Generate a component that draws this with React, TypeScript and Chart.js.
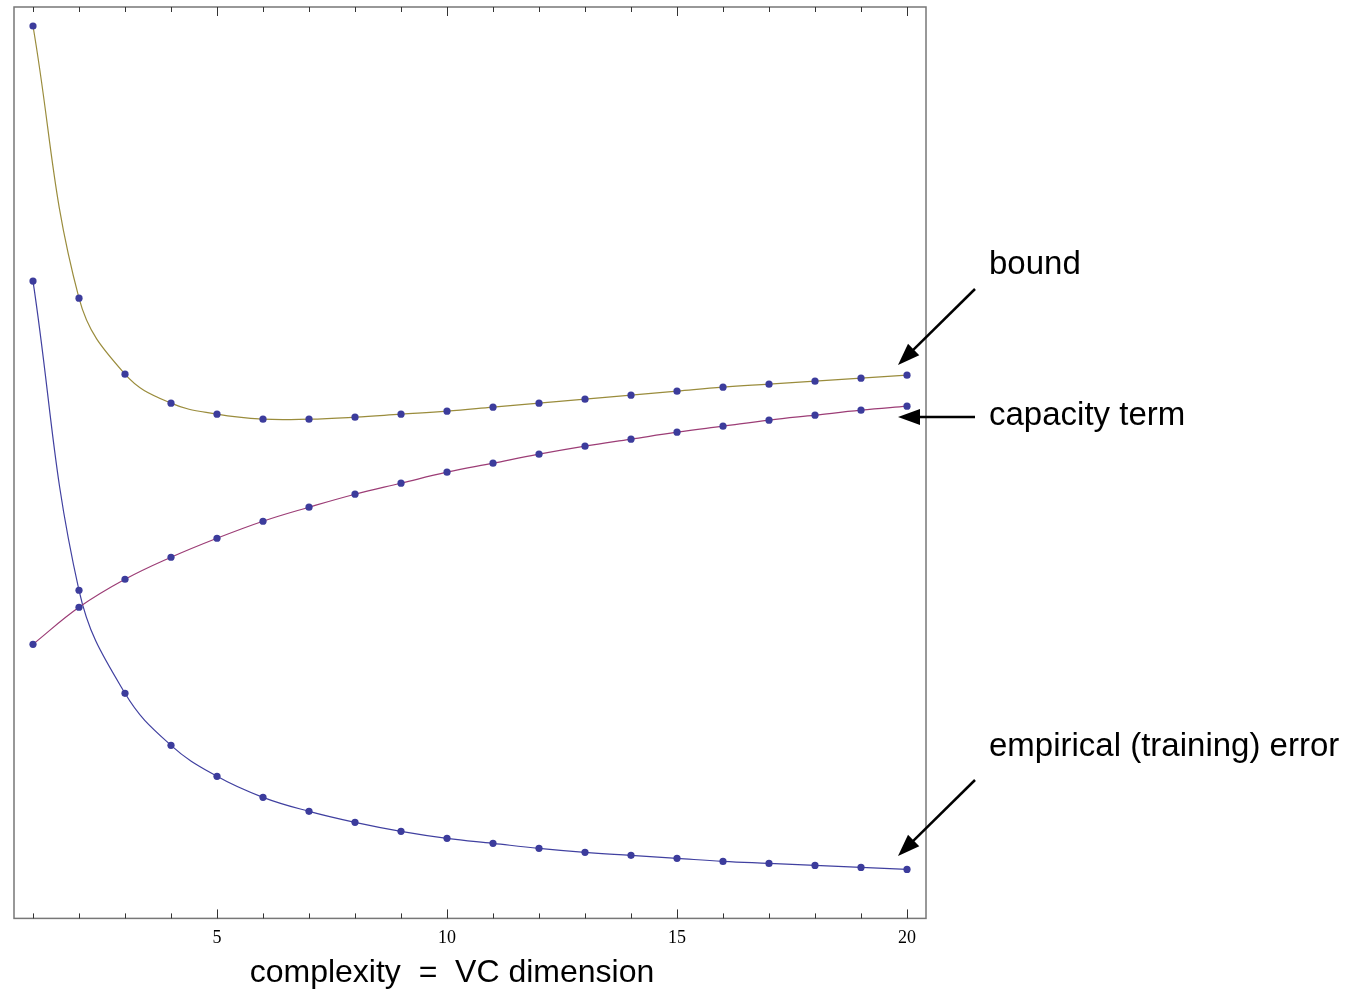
import React, { useEffect, useRef } from 'react';
import { Chart, registerables } from 'chart.js';

Chart.register(...registerables);

// ---- data ----
const complexity = [1, 2, 3, 4, 5, 6, 7, 8, 9, 10, 11, 12, 13, 14, 15, 16, 17, 18, 19, 20];
const boundValues = [0.874, 0.602, 0.526, 0.497, 0.486, 0.481, 0.481, 0.483, 0.486, 0.489, 0.493, 0.497, 0.501, 0.505, 0.509, 0.513, 0.516, 0.519, 0.522, 0.525];
const capacityValues = [0.256, 0.293, 0.321, 0.343, 0.362, 0.379, 0.393, 0.406, 0.417, 0.428, 0.437, 0.446, 0.454, 0.461, 0.468, 0.474, 0.480, 0.485, 0.490, 0.494];
const empiricalValues = [0.619, 0.310, 0.207, 0.155, 0.124, 0.103, 0.089, 0.078, 0.069, 0.062, 0.057, 0.052, 0.048, 0.045, 0.042, 0.039, 0.037, 0.035, 0.033, 0.031];
const xTickLabels = ['5', '10', '15', '20'];
const xAxisTitle = 'complexity = VC dimension';
const labelTexts = ['bound', 'capacity term', 'empirical (training) error'];

// ---- styling ----
const POINT_COLOR = '#3c3c9c';
const BOUND_COLOR = '#9a8c3c';
const CAPACITY_COLOR = '#9c3d76';
const EMPIRICAL_COLOR = '#4040a0';
const TITLE_FONT = '32px "Liberation Sans", Arial, sans-serif';
const LABEL_FONT = '33px "Liberation Sans", Arial, sans-serif';

const annotationLayout = [
  { textX: 989, textY: 274, from: [975, 289], to: [898, 365] },
  { textX: 989, textY: 425, from: [975, 417], to: [898, 417] },
  { textX: 989, textY: 756, from: [975, 780], to: [898, 856] },
];

function drawArrow(ctx: CanvasRenderingContext2D, from: number[], to: number[]) {
  const dx = to[0] - from[0];
  const dy = to[1] - from[1];
  const len = Math.hypot(dx, dy);
  const ux = dx / len;
  const uy = dy / len;
  const headLen = 22;
  const headHalf = 8;
  const bx = to[0] - ux * headLen;
  const by = to[1] - uy * headLen;
  ctx.beginPath();
  ctx.moveTo(from[0], from[1]);
  ctx.lineTo(bx + ux * 2, by + uy * 2);
  ctx.lineWidth = 2.5;
  ctx.strokeStyle = '#000';
  ctx.stroke();
  ctx.beginPath();
  ctx.moveTo(to[0], to[1]);
  ctx.lineTo(bx - uy * headHalf, by + ux * headHalf);
  ctx.lineTo(bx + uy * headHalf, by - ux * headHalf);
  ctx.closePath();
  ctx.fillStyle = '#000';
  ctx.fill();
}

const framePlugin = {
  id: 'framePlugin',
  afterDatasetsDraw(chart: any) {
    const { ctx, chartArea: a, scales } = chart;
    const x = scales.x;
    ctx.save();
    ctx.strokeStyle = '#777';
    ctx.lineWidth = 1.5;
    ctx.strokeRect(a.left, a.top, a.right - a.left, a.bottom - a.top);
    ctx.strokeStyle = '#333';
    ctx.lineWidth = 1;
    for (const v of complexity) {
      const px = Math.round(x.getPixelForValue(v)) + 0.5;
      const len = v % 5 === 0 ? 9 : 5;
      ctx.beginPath();
      ctx.moveTo(px, a.top);
      ctx.lineTo(px, a.top + len);
      ctx.moveTo(px, a.bottom);
      ctx.lineTo(px, a.bottom - len);
      ctx.stroke();
    }
    ctx.fillStyle = '#000';
    ctx.font = TITLE_FONT;
    ctx.textAlign = 'center';
    ctx.textBaseline = 'alphabetic';
    ctx.fillText(xAxisTitle.replace(' = ', '  =  '), 452, 982);
    ctx.font = LABEL_FONT;
    ctx.textAlign = 'left';
    annotationLayout.forEach((an, i) => {
      ctx.fillStyle = '#000';
      ctx.fillText(labelTexts[i], an.textX, an.textY);
      drawArrow(ctx, an.from, an.to);
    });
    ctx.restore();
  },
};

export default function App() {
  const canvasRef = useRef<HTMLCanvasElement | null>(null);

  useEffect(() => {
    const canvas = canvasRef.current;
    if (!canvas) return;
    const toPts = (vals: number[]) => complexity.map((c, i) => ({ x: c, y: vals[i] }));
    const lineDs = (label: string, vals: number[], color: string, order: number) => ({
      label,
      data: toPts(vals),
      borderColor: color,
      borderWidth: 1.2,
      pointRadius: 0,
      pointHoverRadius: 0,
      fill: false,
      tension: 0.4,
      order,
    });
    const pointDs = (label: string, vals: number[], order: number) => ({
      label,
      data: toPts(vals),
      showLine: false,
      pointRadius: 3.6,
      pointBackgroundColor: POINT_COLOR,
      pointBorderColor: POINT_COLOR,
      pointBorderWidth: 0,
      order,
    });
    const chart = new Chart(canvas, {
      type: 'line',
      data: {
        datasets: [
          pointDs('bound pts', boundValues, 1),
          pointDs('capacity pts', capacityValues, 1),
          pointDs('empirical pts', empiricalValues, 1),
          lineDs('bound', boundValues, BOUND_COLOR, 2),
          lineDs('capacity term', capacityValues, CAPACITY_COLOR, 2),
          lineDs('empirical (training) error', empiricalValues, EMPIRICAL_COLOR, 2),
        ],
      },
      options: {
        animation: false,
        responsive: false,
        layout: { padding: { left: 14, top: 7, right: 433, bottom: 33 } },
        plugins: { legend: { display: false }, tooltip: { enabled: false } },
        events: [],
        scales: {
          x: {
            type: 'linear',
            min: 0.587,
            max: 20.413,
            afterBuildTicks: (s: any) => {
              s.ticks = complexity.map((v) => ({ value: v }));
            },
            ticks: {
              autoSkip: false,
              maxRotation: 0,
              padding: 9,
              color: '#000',
              font: { family: '"Liberation Serif", "Times New Roman", serif', size: 18 },
              callback: (v: any) => (xTickLabels.includes(String(v)) ? String(v) : ''),
            },
            grid: { display: false, drawTicks: false },
            border: { display: false },
          },
          y: {
            display: false,
            min: -0.018,
            max: 0.893,
          },
        },
      },
      plugins: [framePlugin],
    });
    return () => chart.destroy();
  }, []);

  return (
    <div style={{ position: 'absolute', left: 0, top: 0, width: 1359, height: 991, background: '#fff' }}>
      <canvas ref={canvasRef} width={1359} height={991} style={{ display: 'block' }} />
    </div>
  );
}
